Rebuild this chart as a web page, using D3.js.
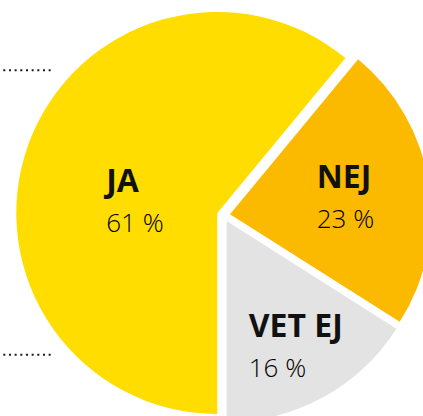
<!DOCTYPE html>
<html>
<head>
<meta charset="utf-8">
<script src="https://cdn.jsdelivr.net/npm/d3@7"></script>
<style>
  html, body { margin: 0; padding: 0; background: #fff; }
  svg { display: block; }
  .name { font-family: "Open Sans", sans-serif; font-weight: 700; font-size: 32px; fill: #111; }
  .pct  { font-family: "Open Sans", sans-serif; font-weight: 300; font-size: 26px; fill: #000; }
</style>
</head>
<body>
<svg id="chart"></svg>
<script>
"use strict";

// data
const categories = [ "JA", "NEJ", "VET EJ" ];
const shares     = [ 61, 23, 16 ];
const colors     = [ "#ffdd00", "#fbba00", "#e3e3e3" ];

const width  = 423,
      height = 416;

// pie geometry
const centre  = { x: 223.5, y: 215.2 },
      radius  = 201,
      explode = 6.6;

// label placement (radius from centre, angle nudge in radians)
const labelLayout = {
  "JA":     { r: 103, nudge: -0.2 },
  "NEJ":    { r: 121, nudge: 0 },
  "VET EJ": { r: 148, nudge: 0 }
};

const data = categories.map( (c, i) => ({ name: c, value: shares[i], color: colors[i] }) );

const svg = d3.select( "#chart" )
              .attr( "width", width )
              .attr( "height", height );

// dotted guide lines on the left
svg.selectAll( ".guide" )
    .data( [ 70.3, 354.7 ] )
  .enter().append( "line" )
    .attr( "class", "guide" )
    .attr( "x1", 3.3 )
    .attr( "x2", 51 )
    .attr( "y1", (d) => d )
    .attr( "y2", (d) => d )
    .attr( "stroke", "#1a1a1a" )
    .attr( "stroke-width", 2 )
    .attr( "stroke-dasharray", "2 3.67" );

const pie = d3.pie()
              .sort( null )
              .value( (d) => d.value )
              .startAngle( Math.PI )
              .endAngle( 3 * Math.PI );

const arc = d3.arc()
              .innerRadius( 0 )
              .outerRadius( radius );

const mid = (d) => ( d.startAngle + d.endAngle ) / 2;

const root = svg.append( "g" )
                .attr( "transform", "translate(" + centre.x + "," + centre.y + ")" );

const slices = root.selectAll( ".slice" )
                   .data( pie( data ) )
                 .enter().append( "g" )
                   .attr( "class", "slice" )
                   .attr( "transform", (d) => {
                     const a = mid( d );
                     return "translate(" + ( explode * Math.sin( a ) ) + "," + ( -explode * Math.cos( a ) ) + ")";
                   });

slices.append( "path" )
      .attr( "d", arc )
      .style( "fill", (d) => d.data.color );

// labels
const labels = root.selectAll( ".label" )
                   .data( pie( data ) )
                 .enter().append( "g" )
                   .attr( "class", "label" )
                   .attr( "transform", (d) => {
                     const l = labelLayout[ d.data.name ],
                           a = mid( d ) + l.nudge;
                     return "translate(" + ( l.r * Math.sin( a ) ) + "," + ( -l.r * Math.cos( a ) ) + ")";
                   });

labels.append( "text" )
      .attr( "class", "name" )
      .attr( "y", -8 )
      .text( (d) => d.data.name );

labels.append( "text" )
      .attr( "class", "pct" )
      .attr( "y", 32 )
      .text( (d) => d.data.value + " %" );

// left-align the percent line with the name, centre the block on the anchor
labels.each( function() {
  const g    = d3.select( this ),
        name = g.select( ".name" ),
        w    = name.node().getComputedTextLength();
  g.selectAll( "text" ).attr( "x", -w / 2 + 1 );
});
</script>
</body>
</html>
